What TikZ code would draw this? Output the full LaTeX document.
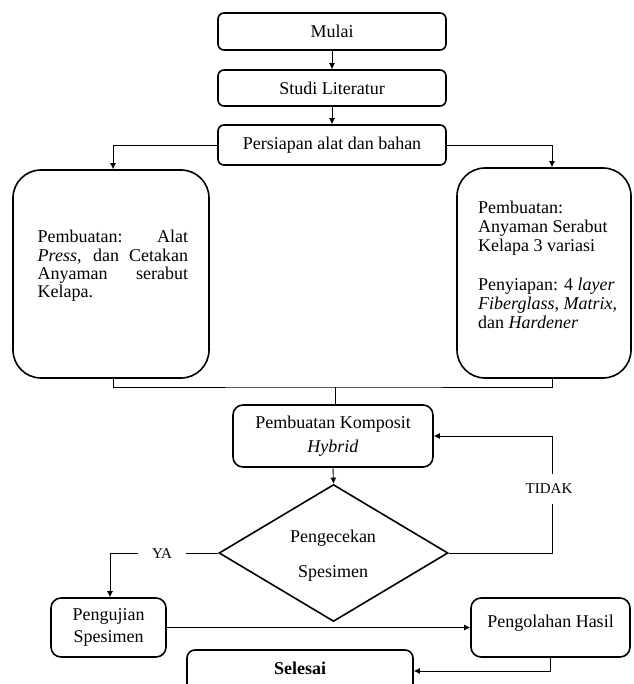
\documentclass[tikz,border=0pt]{standalone}
\usepackage{fontspec}
\setmainfont{Liberation Serif}
\usetikzlibrary{shapes.geometric,arrows.meta}
\hbadness=10000
\tikzset{
  flowbox/.style={draw, line width=1.6pt, rounded corners=#1, inner sep=0pt, font=\fontsize{18}{19}\selectfont},
  flowbox/.default=6pt,
  conn/.style={line width=0.9pt},
  arr/.style={conn, -{Latex[length=6pt,width=6pt]}},
  lab/.style={fill=white, font=\fontsize{15}{15}\selectfont, inner sep=0pt},
  txt/.style={inner sep=0pt, font=\fontsize{18}{19}\selectfont},
}
\begin{document}
\begin{tikzpicture}[x=1pt,y=-1pt]
\useasboundingbox (0,0) rectangle (633,684);
\clip (0,0) rectangle (633,684);
% boxes
\node[flowbox, minimum width=228pt, minimum height=37pt] (mulai) at (332,31.5) {Mulai};
\node[flowbox, minimum width=228pt, minimum height=36pt] (studi) at (332,88) {Studi Literatur};
\node[flowbox, minimum width=228pt, minimum height=40pt] (pers) at (332,145) {Persiapan alat dan bahan};
\node[flowbox=28pt, minimum width=196pt, minimum height=208pt] (lbox) at (111,274) {};
\node[flowbox=28pt, minimum width=174pt, minimum height=210pt] (rbox) at (544,273) {};
\node[txt, anchor=west] (ltext) at (37.5,266) {\parbox{150.5pt}{\fontsize{18}{18.3}\selectfont Pembuatan: Alat\linebreak \textit{Press}, dan Cetakan\linebreak Anyaman serabut\linebreak Kelapa.}};
\node[txt, anchor=west, align=left] (rtext) at (478,265) {Pembuatan:\\Anyaman Serabut\\Kelapa 3 variasi\\[20pt]Penyiapan: 4 \textit{layer}\\\textit{Fiberglass}, \textit{Matrix},\\dan \textit{Hardener}};
\node[flowbox=10pt, minimum width=200pt, minimum height=62pt, align=center, font=\fontsize{18}{24}\selectfont] (komp) at (333,436) {Pembuatan Komposit\\\textit{Hybrid}};
\node[diamond, draw, line width=1.6pt, minimum width=229pt, minimum height=137pt, inner sep=0pt] (cek) at (333.5,553) {};
\node[txt, align=center, font=\fontsize{18}{35}\selectfont] (cekT) at (333,556) {Pengecekan\\Spesimen};
\node[flowbox=10pt, minimum width=115pt, minimum height=59pt, align=center, font=\fontsize{18}{22.5}\selectfont] (uji) at (108.5,627.5) {Pengujian\\Spesimen};
\node[flowbox=10pt, minimum width=159pt, minimum height=59pt] (olah) at (550.5,627.5) {};
\node[txt] (olahT) at (550.5,623) {Pengolahan Hasil};
\node[flowbox=8pt, minimum width=226pt, minimum height=42pt] (sel) at (300,671) {};
\node[txt] (selT) at (300,668) {\textbf{Selesai}};
% connectors
\draw[arr] (mulai) -- (studi);
\draw[arr] (studi) -- (pers);
\draw[arr] (pers.west) -| ([xshift=2pt]lbox.north);
\draw[arr] (pers.east) -| ([xshift=8pt]rbox.north);
\coordinate (merge) at (335,387);
\draw[conn] ([xshift=2pt]lbox.south) |- (merge) -| ([xshift=8pt]rbox.south);
\draw[conn] (merge) -- (merge |- komp.north);
\draw[arr] (komp.south) -- (cek.north);
\coordinate (tcorner) at (552,553);
\draw[arr] (cek.east) -- (tcorner) |- (komp.east);
\coordinate (ycorner) at (110,553);
\draw[arr] (cek.west) -- (ycorner) -- (ycorner |- uji.north);
\draw[arr] (uji.east) -- (olah.west);
\draw[arr] (olah.south) |- (sel.east);
% labels
\node[lab, minimum width=56pt, minimum height=30pt] (tidak) at (549,489) {TIDAK};
\node[lab, minimum width=48pt, minimum height=14pt] (ya) at (162,554) {YA};
\end{tikzpicture}
\end{document}
